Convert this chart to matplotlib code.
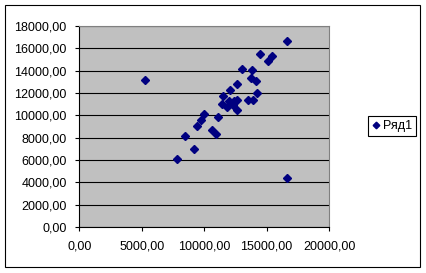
import matplotlib
matplotlib.use("Agg")
import matplotlib.pyplot as pyplot
import matplotlib.ticker as ticker
from matplotlib.patches import Rectangle

# values
x_values = [16670, 14500, 15140, 15460, 13060, 13860, 5290, 13780, 14180, 12660,
	12100, 14260, 11540, 12020, 12660, 12420, 13520, 13940, 11460, 11860,
	12340, 12660, 10020, 9780, 11140, 9460, 10660, 10980, 8490, 9210,
	7850, 16670]
y_values = [16620, 15490, 14830, 15280, 14145, 14030, 13130, 13310, 13040, 12800,
	12240, 11970, 11700, 11280, 11370, 11280, 11370, 11370, 10980, 10710,
	10890, 10470, 10090, 9580, 9850, 9040, 8700, 8300, 8120, 6960,
	6060, 4360]
series_name = "Ряд1"

x_ticks = [0, 5000, 10000, 15000, 20000]
y_ticks = [0, 2000, 4000, 6000, 8000, 10000, 12000, 14000, 16000, 18000]

pyplot.rcParams['font.family'] = ['Liberation Sans', 'DejaVu Sans']

fig = pyplot.figure(figsize=(4.27, 2.73), dpi=100)
ax = fig.add_axes([0.1857, 0.1685, 0.5848, 0.7363])
ax.set_facecolor("#c0c0c0")

ax.plot(x_values, y_values, linestyle="none", marker="D", markersize=4.2,
	color="#000080", label=series_name, zorder=3)

ax.set_xlim(0, 20000)
ax.set_ylim(0, 18000)
ax.set_xticks(x_ticks)
ax.set_yticks(y_ticks)

comma = ticker.FuncFormatter(lambda v, pos: ('%.2f' % v).replace('.', ','))
ax.xaxis.set_major_formatter(comma)
ax.yaxis.set_major_formatter(comma)

ax.yaxis.grid(True, color="black", linewidth=0.8)
ax.set_axisbelow(True)

ax.tick_params(direction="out", length=3, width=0.8, labelsize=9, colors="black")
ax.tick_params(axis="y", pad=6)
ax.tick_params(axis="x", pad=6.5)
for side in ["top", "right"]:
	ax.spines[side].set_color("#808080")
	ax.spines[side].set_linewidth(0.8)
for side in ["left", "bottom"]:
	ax.spines[side].set_color("black")
	ax.spines[side].set_linewidth(0.8)

# Legend box on the right
leg = fig.legend(loc="center left", bbox_to_anchor=(0.862, 0.538), fontsize=9,
	fancybox=False, edgecolor="black", framealpha=1, handlelength=0.6,
	handletextpad=0.3, borderpad=0.3, borderaxespad=0, markerscale=0.8)
leg.get_frame().set_linewidth(0.8)

# Outer chart border
fig.patches.append(Rectangle((0.0117, 0.022), 0.972, 0.96, transform=fig.transFigure,
	fill=False, edgecolor="black", linewidth=0.8))

fig.savefig("out.png", dpi=100)
pyplot.close()
